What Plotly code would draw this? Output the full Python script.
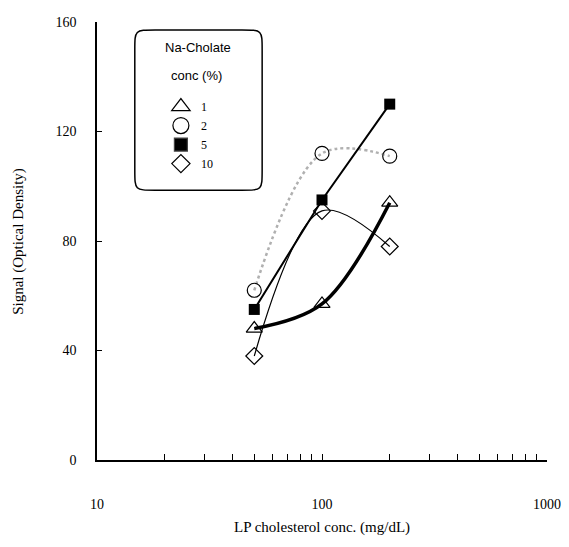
import plotly.graph_objects as go

x_conc = [50, 100, 200]
y_1 = [48, 57, 94]
y_2 = [62, 112, 111]
y_5 = [55, 95, 130]
y_10 = [38, 91, 78]
legend_labels = ["1", "2", "5", "10"]
x_ticks = [10, 100, 1000]
x_minor = [20, 30, 40, 50, 60, 70, 80, 90, 200, 300, 400, 500, 600, 700, 800, 900]
y_ticks = [0, 40, 80, 120, 160]

fig = go.Figure()

# data lines
fig.add_trace(go.Scatter(x=x_conc, y=y_2, mode="lines+markers", showlegend=False,
                         line=dict(color="#b0b0b0", width=2.5, dash="dot", shape="spline"),
                         marker=dict(symbol="circle-open", size=14, color="black", line=dict(width=1.2))))
fig.add_trace(go.Scatter(x=x_conc, y=y_10, mode="lines+markers", showlegend=False,
                         line=dict(color="black", width=1.2, shape="spline"),
                         marker=dict(symbol="diamond-open", size=13, color="black", line=dict(width=1.2))))
fig.add_trace(go.Scatter(x=x_conc, y=y_1, mode="lines+markers", showlegend=False,
                         line=dict(color="black", width=3.5, shape="spline"),
                         marker=dict(symbol="triangle-up-open", size=14, color="black", line=dict(width=1.2))))
fig.add_trace(go.Scatter(x=x_conc, y=y_5, mode="lines+markers", showlegend=False,
                         line=dict(color="black", width=2),
                         marker=dict(symbol="square", size=11, color="black")))

# legend entries (markers only)
for lab, sym, sz in zip(legend_labels,
                        ["triangle-up-open", "circle-open", "square", "diamond-open"],
                        [16, 16, 13, 14]):
    fig.add_trace(go.Scatter(x=[None], y=[None], mode="markers", name=lab,
                             marker=dict(symbol=sym, size=sz, color="black", line=dict(width=1.2))))

# rounded legend box
x0, x1, y0, y1, r = 0.084, 0.367, 0.616, 0.982, 0.045
ry = r * 450 / 438
path = (f"M {x0+r},{y1} L {x1-r},{y1} C {x1},{y1} {x1},{y1} {x1},{y1-ry} "
        f"L {x1},{y0+ry} C {x1},{y0} {x1},{y0} {x1-r},{y0} L {x0+r},{y0} "
        f"C {x0},{y0} {x0},{y0} {x0},{y0+ry} L {x0},{y1-ry} C {x0},{y1} {x0},{y1} {x0+r},{y1} Z")
fig.add_shape(type="path", path=path, xref="paper", yref="paper",
              line=dict(color="black", width=1.5), fillcolor="rgba(0,0,0,0)")

# legend heading
fig.add_annotation(text="Na-Cholate", xref="paper", yref="paper", x=0.224, y=0.941,
                   xanchor="center", yanchor="middle", showarrow=False,
                   font=dict(family="Liberation Sans", size=13))
fig.add_annotation(text="conc (%)", xref="paper", yref="paper", x=0.222, y=0.877,
                   xanchor="center", yanchor="middle", showarrow=False,
                   font=dict(family="Liberation Sans", size=13))

# axis titles
fig.add_annotation(text="LP cholesterol conc. (mg/dL)", xref="paper", yref="paper",
                   x=0.5, y=-0.155, xanchor="center", yanchor="middle",
                   showarrow=False, font=dict(size=15))
fig.add_annotation(text="Signal (Optical Density)", xref="paper", yref="paper",
                   x=-0.176, y=0.5, xanchor="center", yanchor="middle", textangle=-90,
                   showarrow=False, font=dict(size=15))

fig.update_layout(
    width=561, height=539,
    margin=dict(l=89, r=22, t=14, b=87),
    plot_bgcolor="white", paper_bgcolor="white",
    font=dict(family="Liberation Serif", size=14, color="black"),
    showlegend=True,
    legend=dict(x=0.142, y=0.84, xanchor="left", yanchor="top",
                bgcolor="rgba(0,0,0,0)", borderwidth=0,
                font=dict(family="Liberation Serif", size=12),
                tracegroupgap=0, itemwidth=30),
    xaxis=dict(type="log", range=[1, 3], showgrid=False, zeroline=False,
               automargin=False,
               showline=True, linecolor="black", linewidth=1.5,
               tickvals=x_ticks + x_minor,
               ticktext=[str(v) for v in x_ticks] + [""] * len(x_minor),
               ticks="inside", ticklen=6, tickcolor="black",
               ticklabelstandoff=30),
    yaxis=dict(range=[0, 160], showgrid=False, zeroline=False,
               automargin=False,
               showline=True, linecolor="black", linewidth=1.5,
               tickvals=y_ticks, ticks="inside", ticklen=5, tickcolor="black",
               ticklabelstandoff=16),
)

fig.write_html("out.html")
